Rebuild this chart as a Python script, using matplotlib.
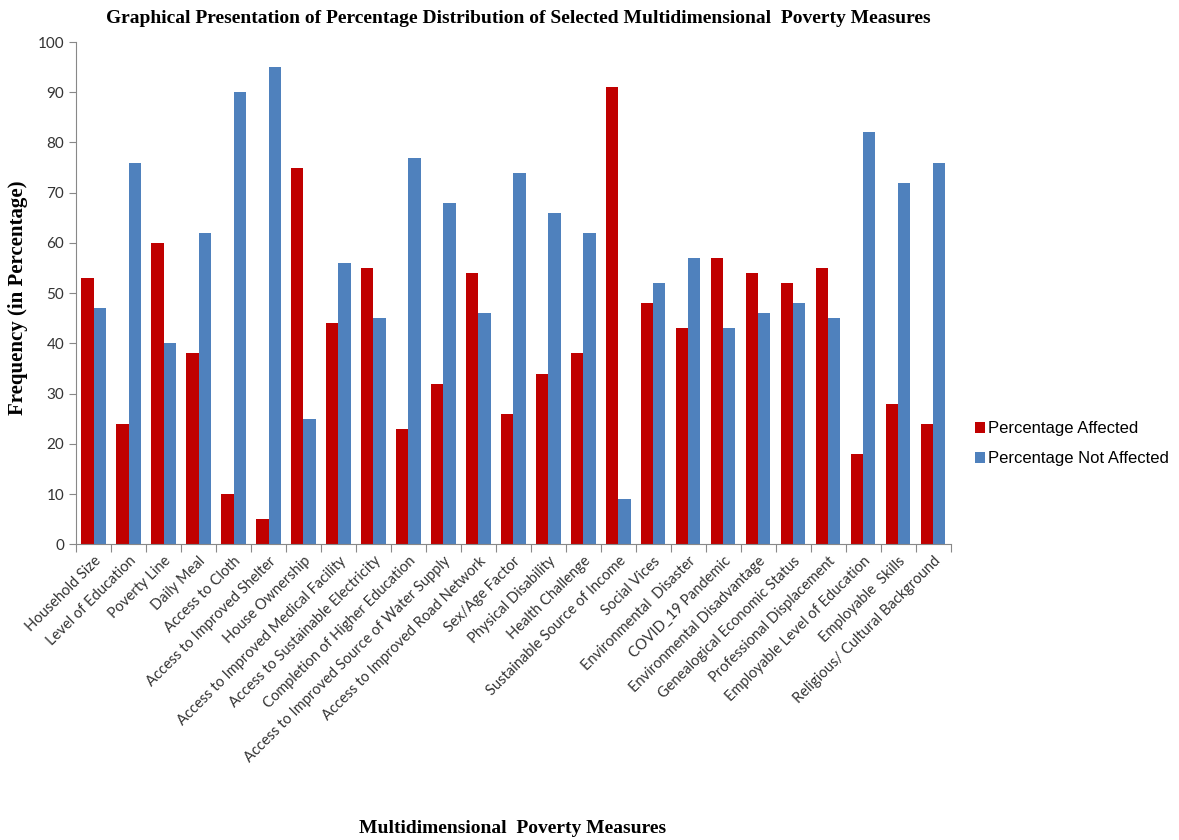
import matplotlib
matplotlib.use("Agg")
from matplotlib import pyplot as plt
import numpy as np

categories = [
    "Household Size", "Level of Education", "Poverty Line", "Daily Meal",
    "Access to Cloth", "Access to Improved Shelter", "House Ownership",
    "Access to Improved Medical Facility", "Access to Sustainable Electricity",
    "Completion of Higher Education", "Access to Improved Source of Water Supply",
    "Access to Improved Road Network", "Sex/Age Factor", "Physical Disability",
    "Health Challenge", "Sustainable Source of Income", "Social Vices",
    "Environmental  Disaster", "COVID_19 Pandemic", "Environmental Disadvantage",
    "Genealogical Economic Status", "Professional Displacement",
    "Employable Level of Education", "Employable  Skills",
    "Religious/ Cultural Background",
]
affected = [53, 24, 60, 38, 10, 5, 75, 44, 55, 23, 32, 54, 26, 34, 38,
            91, 48, 43, 57, 54, 52, 55, 18, 28, 24]
not_affected = [47, 76, 40, 62, 90, 95, 25, 56, 45, 77, 68, 46, 74, 66, 62,
                9, 52, 57, 43, 46, 48, 45, 82, 72, 76]

fig = plt.figure(figsize=(11.79, 8.4), dpi=100)
ax = fig.add_axes([0.0645, 0.352, 0.742, 0.598])

x = np.arange(len(categories))
w = 0.345
ax.bar(x - w / 2, affected, w, color="#C00000", label="Percentage Affected")
ax.bar(x + w / 2, not_affected, w, color="#4F81BD", label="Percentage Not Affected")

ax.set_xlim(-0.5, len(categories) - 0.5)
ax.set_ylim(0, 100)
ax.set_yticks(range(0, 101, 10))
# category boundaries get the tick marks, names sit on the minor ticks
ax.set_xticks(np.arange(len(categories) + 1) - 0.5)
ax.set_xticklabels([])
ax.set_xticks(x, minor=True)
ax.set_xticklabels(categories, minor=True, rotation=45, ha="right",
                   rotation_mode="anchor", fontsize=10.5, family="Lato",
                   color="#333333")
ax.tick_params(axis="x", which="minor", length=0, pad=7)
ax.tick_params(axis="x", which="major", length=6, color="#888888", direction="out")
ax.tick_params(axis="y", length=5, color="#888888", labelsize=11,
               labelcolor="#333333")
for lab in ax.get_yticklabels():
    lab.set_family("Lato")

for side in ["top", "right"]:
    ax.spines[side].set_visible(False)
for side in ["left", "bottom"]:
    ax.spines[side].set_color("#888888")

fig.text(0.44, 0.978, "Graphical Presentation of Percentage Distribution of Selected Multidimensional  Poverty Measures",
         ha="center", va="center", fontsize=14, fontweight="bold",
         family="Liberation Serif")
fig.text(0.435, 0.014, "Multidimensional  Poverty Measures", ha="center",
         va="center", fontsize=14, fontweight="bold", family="Liberation Serif")
fig.text(0.015, 0.645, "Frequency (in Percentage)", ha="center", va="center",
         rotation=90, fontsize=15, fontweight="bold", family="Liberation Serif")

leg = ax.legend(loc="center left", bbox_to_anchor=(1.01, 0.2), frameon=False,
                prop={"family": "Liberation Sans", "size": 12},
                handlelength=0.6, handleheight=0.6, handletextpad=0.2,
                labelspacing=0.9)

fig.savefig("out.png", dpi=100)
